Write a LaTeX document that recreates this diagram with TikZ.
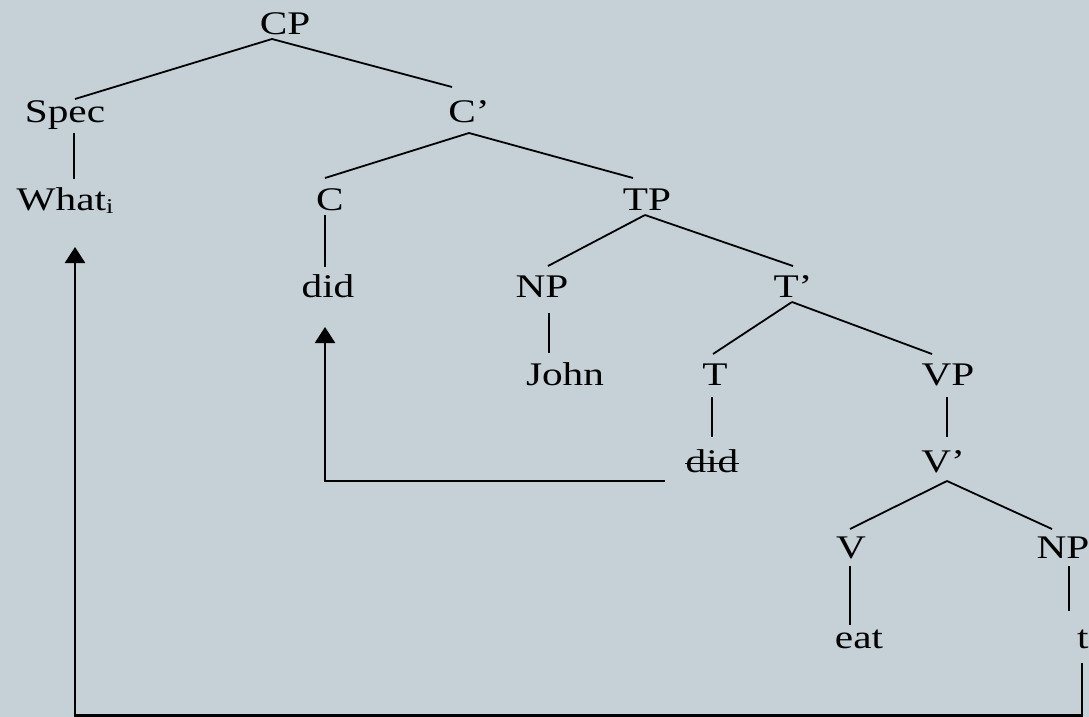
\documentclass[tikz,border=0pt]{standalone}
\usepackage{fontspec}
\setmainfont[FakeStretch=1.25]{Liberation Serif}
\usetikzlibrary{arrows.meta}
\definecolor{bg}{RGB}{197,208,215}
\begin{document}
\begin{tikzpicture}[x=1pt,y=-1pt,
  lbl/.style={anchor=base,inner sep=0pt,font=\fontsize{33}{40}\selectfont},
  edge/.style={line width=1.8pt},
  mv/.style={line width=2.4pt,-{Triangle[width=20pt,length=16pt]}}]
\fill[bg] (0,0) rectangle (1089,717);
\useasboundingbox (0,0) rectangle (1089,717);
% nodes
\node[lbl] (cp)   at (285,35)  {CP};
\node[lbl] (spec) at (65,122)  {Spec};
\node[lbl] (cbar) at (469,122) {C’};
\node[lbl] (what) at (65,210)  {What\raisebox{-3pt}{\fontsize{21}{21}\selectfont i}};
\node[lbl] (c)    at (330,210) {C};
\node[lbl] (tp)   at (647,210) {TP};
\node[lbl] (did)  at (328,297) {did};
\node[lbl] (npa)  at (542,297) {NP};
\node[lbl] (tbar) at (793,297) {T’};
\node[lbl] (john) at (565,385) {John};
\node[lbl] (t)    at (715,385) {T};
\node[lbl] (vp)   at (948,385) {VP};
\node[lbl] (didx) at (712,472) {did};
\node[lbl] (vbar) at (943,472) {V’};
\node[lbl] (v)    at (851,558) {V};
\node[lbl] (npb)  at (1063,558) {NP};
\node[lbl] (eat)  at (859,648) {eat};
\node[lbl,anchor=base west] (trace) at (1077,648) {t\raisebox{-3pt}{\fontsize{21}{21}\selectfont i}};
% strike-through on the lower "did"
\draw[line width=1.8pt] ([shift={(0,-8.5)}]didx.base west) -- ([shift={(0,-8.5)}]didx.base east);
% tree edges
\draw[edge] ([shift={(-13,4)}]cp.base) -- ([shift={(10,-23)}]spec.base);
\draw[edge] ([shift={(-13,4)}]cp.base) -- ([shift={(-17,-35)}]cbar.base);
\draw[edge] ([shift={(9,11)}]spec.base) -- ([shift={(9,-31)}]what.base);
\draw[edge] ([shift={(0,11)}]cbar.base) -- ([shift={(-5,-32)}]c.base);
\draw[edge] ([shift={(0,11)}]cbar.base) -- ([shift={(-14,-32)}]tp.base);
\draw[edge] ([shift={(-5,5)}]c.base) -- ([shift={(-3,-30)}]did.base);
\draw[edge] ([shift={(-2,5)}]tp.base) -- ([shift={(6,-31)}]npa.base);
\draw[edge] ([shift={(-2,5)}]tp.base) -- ([shift={(0,-31)}]tbar.base);
\draw[edge] ([shift={(7,16)}]npa.base) -- ([shift={(-16,-32)}]john.base);
\draw[edge] ([shift={(-1,5)}]tbar.base) -- ([shift={(-2,-31)}]t.base);
\draw[edge] ([shift={(-1,5)}]tbar.base) -- ([shift={(-16,-31)}]vp.base);
\draw[edge] ([shift={(-3,12)}]t.base) -- ([shift={(0,-35)}]didx.base);
\draw[edge] ([shift={(-1,12)}]vp.base) -- ([shift={(4,-35)}]vbar.base);
\draw[edge] ([shift={(4,9)}]vbar.base) -- ([shift={(-1,-29)}]v.base);
\draw[edge] ([shift={(4,9)}]vbar.base) -- ([shift={(-11,-29)}]npb.base);
\draw[edge] ([shift={(-1,8)}]v.base) -- ([shift={(-9,-23)}]eat.base);
\draw[edge] ([shift={(6,8)}]npb.base) -- ([shift={(-8,-37)}]trace.base west);
% movement arrows
\draw[mv] ([shift={(5,15)}]trace.base west) -- ++(0,52.5) -| ([shift={(10,37)}]what.base);
\draw[mv] ([shift={(-47,9)}]didx.base) -| ([shift={(-3,30)}]did.base);
\end{tikzpicture}
\end{document}
